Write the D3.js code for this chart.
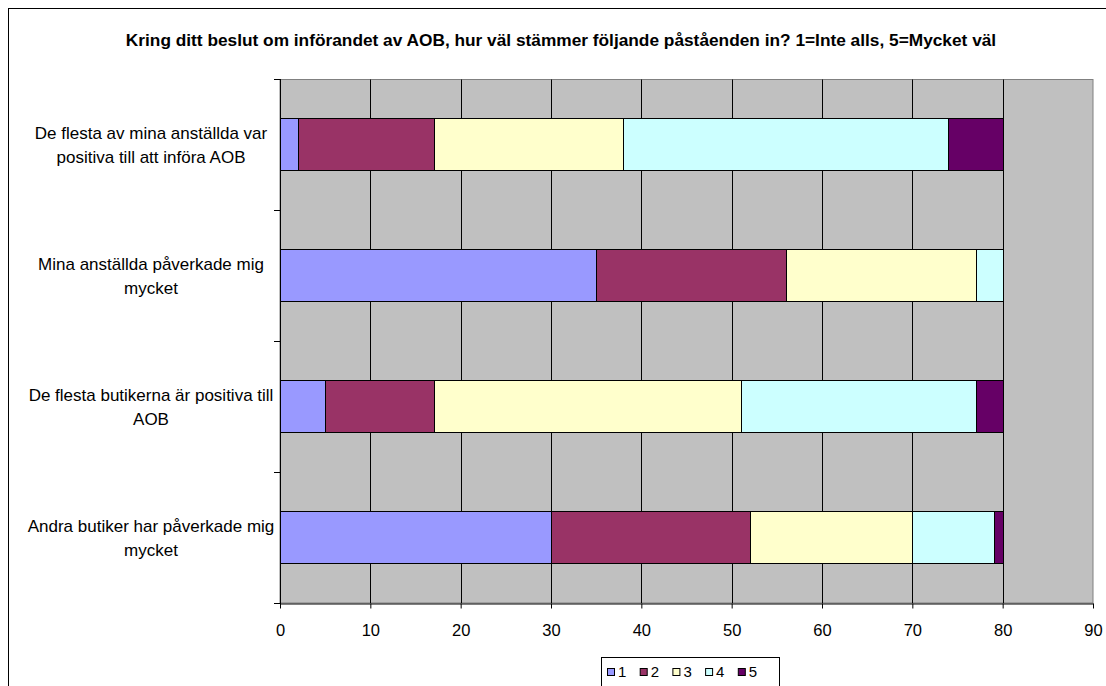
<!DOCTYPE html>
<html><head><meta charset="utf-8">
<script src="https://cdn.jsdelivr.net/npm/d3@7"></script>
<style>body{margin:0;background:#fff}svg{display:block}text{font-family:Arial,"Liberation Sans",sans-serif}</style>
</head><body>
<svg id="c" width="1106" height="686"></svg>
<script>
const title = "Kring ditt beslut om införandet av AOB, hur väl stämmer följande påståenden in? 1=Inte alls, 5=Mycket väl";
const categories = [
  ["De flesta av mina anställda var", "positiva till att införa AOB"],
  ["Mina anställda påverkade mig", "mycket"],
  ["De flesta butikerna är positiva till", "AOB"],
  ["Andra butiker har påverkade mig", "mycket"]
];
const seriesNames = ["1", "2", "3", "4", "5"];
const s1 = [2, 35, 5, 30];
const s2 = [15, 21, 12, 22];
const s3 = [21, 21, 34, 18];
const s4 = [36, 3, 26, 9];
const s5 = [6, 0, 3, 1];
const xTicks = [0, 10, 20, 30, 40, 50, 60, 70, 80, 90];
const colors = ["#9999FF", "#993366", "#FFFFCC", "#CCFFFF", "#660066"];

const svg = d3.select("#c");
const series = [s1, s2, s3, s4, s5];
const catKeys = categories.map(c => c.join(" "));

svg.append("rect").attr("x", 8.5).attr("y", 8.5).attr("width", 1200).attr("height", 800)
  .attr("fill", "#fff").attr("stroke", "#000");

svg.append("text").attr("x", 561).attr("y", 46).attr("text-anchor", "middle")
  .attr("font-weight", "bold").attr("font-size", 17.3).text(title);

const x = d3.scaleLinear().domain([0, 90]).range([280, 1093]);
const y = d3.scaleBand().domain(catKeys).range([79, 603]).paddingInner(0.6).paddingOuter(0.3);

svg.append("rect").attr("x", x(0)).attr("y", 79.5).attr("width", x(90) - x(0)).attr("height", 603 - 79.5)
  .attr("fill", "#C0C0C0").attr("stroke", "#808080");

svg.append("g").selectAll("line").data(xTicks.filter(t => t > 0 && t < 90)).join("line")
  .attr("x1", d => Math.round(x(d)) + 0.5).attr("x2", d => Math.round(x(d)) + 0.5)
  .attr("y1", 79.5).attr("y2", 603).attr("stroke", "#000");

const rows = catKeys.map((k, i) => {
  const o = {key: k};
  seriesNames.forEach((s, j) => o[s] = series[j][i]);
  return o;
});
const stacked = d3.stack().keys(seriesNames)(rows);
svg.append("g").selectAll("g").data(stacked).join("g")
  .attr("fill", (d, i) => colors[i])
  .selectAll("rect").data(d => d.filter(p => p[1] > p[0])).join("rect")
  .attr("x", d => Math.round(x(d[0])) + 0.5)
  .attr("width", d => Math.round(x(d[1])) - Math.round(x(d[0])))
  .attr("y", d => Math.round(y(d.data.key)) + 0.5)
  .attr("height", Math.round(y.bandwidth()))
  .attr("stroke", "#000").attr("stroke-width", 1);

const xAxis = svg.append("g").attr("transform", "translate(0,603.5)")
  .call(d3.axisBottom(x).tickValues(xTicks).tickSize(5).tickSizeOuter(0).tickPadding(16));
xAxis.select(".domain").attr("stroke", "#000");
xAxis.selectAll(".tick line").attr("stroke", "#000");
xAxis.selectAll("text").attr("font-size", 16.5).attr("font-family", "Arial, 'Liberation Sans', sans-serif").attr("fill", "#000");

svg.append("line").attr("x1", 280.5).attr("x2", 280.5).attr("y1", 79).attr("y2", 604).attr("stroke", "#000");
const step = y.step();
const bounds = d3.range(catKeys.length + 1).map(i => 79 + i * step);
svg.append("g").selectAll("line").data(bounds).join("line")
  .attr("x1", 274).attr("x2", 281).attr("y1", d => Math.round(d) + 0.5).attr("y2", d => Math.round(d) + 0.5)
  .attr("stroke", "#000");

const lab = svg.append("g").selectAll("text").data(categories).join("text")
  .attr("text-anchor", "middle").attr("font-size", 17).attr("fill", "#000")
  .attr("transform", (d, i) => `translate(151,${y(catKeys[i]) + y.bandwidth() / 2})`);
lab.selectAll("tspan").data(d => d).join("tspan")
  .attr("x", 0).attr("y", (d, i) => i === 0 ? -6 : 18).text(d => d);

const lg = svg.append("g");
lg.append("rect").attr("x", 601.5).attr("y", 657.5).attr("width", 178).attr("height", 60)
  .attr("fill", "#fff").attr("stroke", "#000");
const it = lg.selectAll("g").data(seriesNames).join("g")
  .attr("transform", (d, i) => `translate(${607 + i * 32.7},0)`);
it.append("rect").attr("x", 0.5).attr("y", 668.5).attr("width", 7).attr("height", 7)
  .attr("fill", (d, i) => colors[i]).attr("stroke", "#000");
it.append("text").attr("x", 11).attr("y", 677).attr("font-size", 15).text(d => d);
</script>
</body></html>
